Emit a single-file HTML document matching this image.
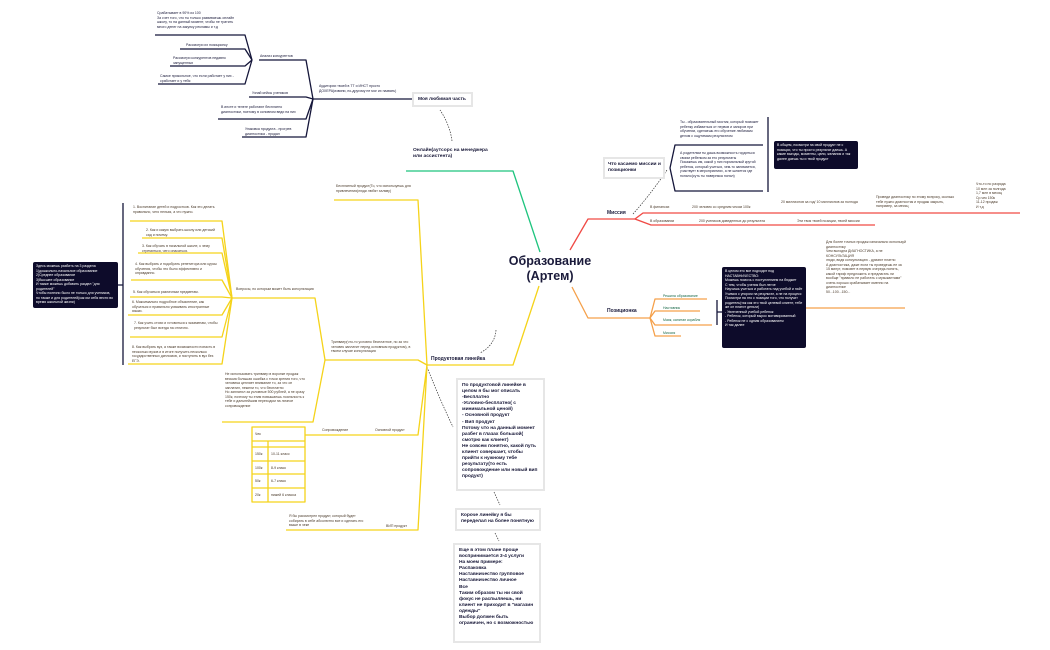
<!DOCTYPE html>
<html><head><meta charset="utf-8">
<style>
*{margin:0;padding:0;box-sizing:border-box}
body{width:1050px;height:650px;background:#fff;position:relative;overflow:hidden;font-family:"Liberation Sans","Noto Sans CJK SC",sans-serif}
svg{position:absolute;left:0;top:0}
.t{position:absolute;font-size:3.5px;line-height:4.5px;color:#4a3a2a}
.n{color:#1a1a3a}
.b{position:absolute;border:2px solid #e6e6e6;background:#fff;font-weight:bold;font-size:4.9px;line-height:6.1px;color:#1a1a3a;padding:3px 4px;letter-spacing:-0.05px}
.d{position:absolute;background:#0d0b2a;color:#fff;font-size:3.5px;line-height:4.5px;padding:2px 3px;border-radius:2px}
.bold{font-weight:bold;color:#1a1a3a}
</style></head><body>
<svg width="1050" height="650" fill="none" stroke-linejoin="round">
<path d="M540 252 L513 171 L406 171" stroke="#1ec47e" stroke-width="1.3"/>
<g stroke="#15163a" stroke-width="1.3">
<path d="M412 99 L313 99"/>
<path d="M313 99 L306 60 L259 60"/>
<path d="M313 99 L306 97 L249 97"/>
<path d="M313 99 L306 119 L218 119"/>
<path d="M313 99 L306 137 L242 137"/>
<path d="M252 60 L245 35 L155 35"/>
<path d="M252 60 L245 49 L180 49"/>
<path d="M252 60 L245 66 L170 66"/>
<path d="M252 60 L245 84 L158 84"/>
<path d="M670 168 L675 145 L763 145"/>
<path d="M670 168 L675 191 L763 191"/>
<path d="M768 117 L768 192"/>
<path d="M123 203 L123 365 M118 285 L123 285"/>
<path d="M717 300 L717 325 M717 312 L722 312"/>
</g>
<g stroke="#333" stroke-width="0.7" stroke-dasharray="1.5 1.2">
<path d="M452 141 Q450 125 440 110"/>
<path d="M633 214 Q650 195 667 170"/>
<path d="M496 330 Q495 345 480 353"/>
<path d="M427 367 Q440 400 453 427"/>
<path d="M494 492 L500 505"/>
<path d="M495 533 L499 541"/>
</g>
<g stroke="#f04a45" stroke-width="1.3">
<path d="M570 250 L588 219 L635 219"/>
<path d="M635 219 L643 213 L1020 213"/>
<path d="M635 219 L651 225 L875 225"/>
</g>
<g stroke="#f5a04a" stroke-width="1.3">
<path d="M572 287 L588 318 L650 318"/>
<path d="M650 318 L655 299 L707 299"/>
<path d="M650 318 L655 311 L700 311"/>
<path d="M650 318 L655 325 L712 325"/>
<path d="M650 318 L655 336 L681 336"/>
<path d="M806 308 L905 308"/>
</g>
<g stroke="#f5d31a" stroke-width="1.3">
<path d="M539 286 L513 365 L427 365"/>
<path d="M427 365 L418 200 L334 200"/>
<path d="M427 365 L418 360 L325 360"/>
<path d="M427 365 L418 435 L305 435"/>
<path d="M427 365 L418 530 L286 530"/>
<path d="M325 360 L315 298 L232 298"/>
<path d="M325 360 L313 422 L222 422"/>
<path d="M232 298 L222 221 L130 221"/>
<path d="M232 298 L222 238 L142 238"/>
<path d="M232 298 L222 253 L138 253"/>
<path d="M232 298 L222 280 L131 280"/>
<path d="M232 298 L222 297 L130 297"/>
<path d="M232 298 L222 315 L128 315"/>
<path d="M232 298 L222 337 L130 337"/>
<path d="M232 298 L222 364 L128 364"/>
<rect x="252" y="427" width="53" height="75"/>
<path d="M252 441 H305 M252 447 H305 M252 461 H305 M252 474 H305 M252 488 H305 M268 441 V502"/>
</g>
</svg>

<div style="position:absolute;left:505px;top:254px;width:90px;text-align:center;font-weight:bold;font-size:12.5px;line-height:15px;color:#1a1a3a">Образование<br>(Артем)</div>

<div class="t bold" style="left:413px;top:148px;font-size:4.9px;line-height:6px">Онлайн(аутсорс на менеджера<br>или ассистента)</div>
<div class="b" style="left:412px;top:92px;width:61px;height:15px;padding:3px 4px;white-space:nowrap">Моя любимая часть</div>
<div class="t n" style="left:319px;top:84px;width:78px">Аудитории твоей в ТТ и ИНСТ просто ДОХЕРА(извини, по-другому не мог их назвать)</div>
<div class="t n" style="left:260px;top:54px">Анализ конкурентов</div>
<div class="t n" style="left:157px;top:11px;width:86px">Срабатывает в 90% из 100<br>За счет того, что ты только развиваешь онлайн школу, то на данный момент, чтобы не тратить много денег на закупку рекламы и т.д</div>
<div class="t n" style="left:186px;top:43px">Рассмотри их позиционку</div>
<div class="t n" style="left:173px;top:56px;width:70px">Рассмотри конкурентов недавно запущенных</div>
<div class="t n" style="left:160px;top:74px;width:84px">Самое прикольное, что если работает у них - сработает и у тебя</div>
<div class="t n" style="left:252px;top:91px">Узнай кейсы учеников</div>
<div class="t n" style="left:221px;top:105px;width:82px">В инсте и телеге работают бесплатно диагностики, поэтому в основном веди на них</div>
<div class="t n" style="left:245px;top:127px;width:58px">Упаковка продукта - прогрев диагностика - продал</div>

<div class="b" style="left:603px;top:157px;width:62px;height:22px;padding:3px 3px;white-space:nowrap">Что касаемо миссии и<br>позиционки</div>
<div class="t n" style="left:680px;top:120px;width:82px">Ты - образовательный мостик, который поможет ребенку избавиться от нервов и запоров при обучении, сделаешь его обучение любимым делом с ощутимым результатом</div>
<div class="t n" style="left:680px;top:151px;width:82px">А родителям ты дашь возможность гордиться своим ребенком за его результаты<br>Покажешь им, какой у них нормальный крутой ребенок, который учиться, чем-то занимается, участвует в мероприятиях, а не шляется где попало(суть ты наверняка понял)</div>
<div class="d" style="left:774px;top:141px;width:84px;height:28px">В общем, посмотри на свой продукт не с позиции, что ты просто результат даешь. А какие выгоды, моменты, цели, желания и так далее даешь ты и твой продукт</div>

<div class="t bold" style="left:607px;top:211px;font-size:5px">Миссия</div>
<div class="t" style="left:650px;top:205px">В финансах</div>
<div class="t" style="left:692px;top:205px">200 человек со средним чеком 100к</div>
<div class="t" style="left:781px;top:200px;width:80px">20 миллионов за год/ 10 миллионов за полгода</div>
<div class="t" style="left:876px;top:195px;width:82px">Проведи диагностику по этому вопросу, сколько тебе нужно диагностик и продаж закрыть, например, за месяц</div>
<div class="t" style="left:976px;top:182px;width:40px">Что-то по разряда<br>10 млн за полгода<br>1,7 млн в месяц<br>Ср.чек 150к<br>11-12 продаж<br>И т.д</div>
<div class="t" style="left:650px;top:219px">В образовании</div>
<div class="t" style="left:699px;top:219px">200 учеников доведенных до результата</div>
<div class="t" style="left:797px;top:219px">Эти твоя твоей позиции, твоей миссии</div>

<div class="t bold" style="left:607px;top:309px;font-size:5px">Позиционка</div>
<div class="t" style="left:663px;top:294px;color:#1a6a4a">Решила образование</div>
<div class="t" style="left:663px;top:306px;color:#1a6a4a">Наставник</div>
<div class="t" style="left:663px;top:318px;color:#1a6a4a">Маяк, капитан корабля</div>
<div class="t" style="left:663px;top:331px;color:#1a6a4a">Миссия</div>
<div class="d" style="left:722px;top:267px;width:84px;height:81px">В целом это все подходит под НАСТАВНИЧЕСТВО:<br>Можешь помочь с поступлением на бюджет<br>С тем, чтобы ученик был легче<br>Научишь учиться и работать над учебой и найт<br>Учимся с упором на результат, а не на процесс<br>Посмотри на это с позиции того, что получит родитель(так как это твой целевой клиент, тебе же он платит деньги)<br>- Увлеченный учебой ребенок<br>- Ребенок, который вырос мотивированный<br>- Ребенок не с одним образованием<br>И так далее</div>
<div class="t" style="left:826px;top:240px;width:80px">Для более точных продаж изначально используй диагностику<br>Чем выгодна ДИАГНОСТИКА, а не КОНСУЛЬТАЦИЯ<br>люди, видя консультацию - думают платно<br>А диагностика, даже если ты проведешь ее за 15 минут, помовет в первую очередь понять, какой тариф предложить и предлагать ли вообще "правило не работать с музыкантами" очень хорошо срабатывает именно на диагностике<br>50...100...150...</div>

<div class="t bold" style="left:431px;top:357px;font-size:5px">Продуктовая линейка</div>
<div class="t" style="left:336px;top:184px;width:80px">Бесплатный продукт(То, что используешь для привлечения(люди любят халяву)</div>
<div class="t" style="left:331px;top:340px;width:82px">Трипваер(что-то условно бесплатное, но за что человек заплатит перед основным продуктом), в твоем случае консультация</div>
<div class="t" style="left:236px;top:287px;width:78px">Вопросы, по которым может быть консультация</div>
<div class="t" style="left:225px;top:372px;width:84px">Не использовать трипваер в воронке продаж весьма большая ошибка с точки зрения того, что человека цепляет внимание то, за что он заплатил, нежели то, что бесплатно<br>Но заплатил за условные 500 рублей, а не сразу 150к, поэтому ты этим повышаешь лояльность к тебе и дальнейшим переходом на личное сопровождение</div>
<div class="t" style="left:322px;top:428px">Сопровождение</div>
<div class="t" style="left:375px;top:428px">Основной продукт</div>
<div class="t" style="left:289px;top:514px;width:80px">Я бы рассмотрел продукт, который будет собирать в себе абсолютно все и сделать его выше в чеке</div>
<div class="t" style="left:386px;top:524px">ВИП продукт</div>

<div class="t" style="left:255px;top:432px">Чек</div>
<div class="t" style="left:255px;top:452px">150к</div><div class="t" style="left:271px;top:452px">10-11 класс</div>
<div class="t" style="left:255px;top:466px">100к</div><div class="t" style="left:271px;top:466px">8-9 класс</div>
<div class="t" style="left:255px;top:479px">50к</div><div class="t" style="left:271px;top:479px">6-7 класс</div>
<div class="t" style="left:255px;top:493px">20к</div><div class="t" style="left:271px;top:493px">нижей 6 класса</div>

<div class="t" style="left:133px;top:205px;width:86px">1. Воспитание детей и подростков. Как это делать правильно, чего нельзя, а что нужно.</div>
<div class="t" style="left:146px;top:228px;width:72px">2. Как и какую выбрать школу или детский сад и почему.</div>
<div class="t" style="left:142px;top:244px;width:76px">3. Как обучать в начальной школе, к чему стремиться, чего опасаться.</div>
<div class="t" style="left:135px;top:262px;width:84px">4. Как выбрать и подобрать репетитора или курсы обучения, чтобы это было эффективно и оправданно.</div>
<div class="t" style="left:133px;top:290px">5. Как обучаться различным предметам.</div>
<div class="t" style="left:132px;top:300px;width:86px">6. Максимально подробное объяснение, как обучаться и правильно усваивать иностранные языки.</div>
<div class="t" style="left:134px;top:321px;width:84px">7. Как учить стихи и готовиться к экзаменам, чтобы результат был всегда на отлично.</div>
<div class="t" style="left:132px;top:345px;width:86px">8. Как выбрать вуз, а также возможности попасть в несколько вузов и в итоге получить несколько государственных дипломов, и поступить в вуз без ЕГЭ.</div>
<div class="d" style="left:33px;top:262px;width:85px;height:46px">Здесь можешь разбить на 3 раздела<br>1)дошкольно-начальное образование<br>2)Среднее образование<br>3)Высшее образование<br>И также можешь добавить раздел "для родителей"<br>Чтобы полезно было не только для учеников, но также и для родителей(как им себя вести во время школьной жизни)</div>

<div class="b" style="left:456px;top:378px;width:89px;height:113px">По продуктовой линейке в целом я бы мог описать<br>-Бесплатно<br>-Условно-бесплатно( с минимальной ценой)<br>- Основной продукт<br>- Вип продукт<br>Потому что на данный момент разбег в глазах большой( смотрю как клиент)<br>Не совсем понятно, какой путь клиент совершает, чтобы прийти к нужному тебе результату(то есть сопровождение или новый вип продукт)</div>
<div class="b" style="left:455px;top:508px;width:86px;height:23px">Короче линейку я бы переделал на более понятную</div>
<div class="b" style="left:453px;top:543px;width:88px;height:100px">Еще в этом плане проще воспринимается 3-4 услуги<br>На моем примере:<br>Распаковка<br>Наставничество групповое<br>Наставничество личное<br>Все<br>Таким образом ты ни свой фокус не распыляешь, ни клиент не приходит в "магазин одежды"<br>Выбор должен быть ограничен, но с возможностью</div>
</body></html>
